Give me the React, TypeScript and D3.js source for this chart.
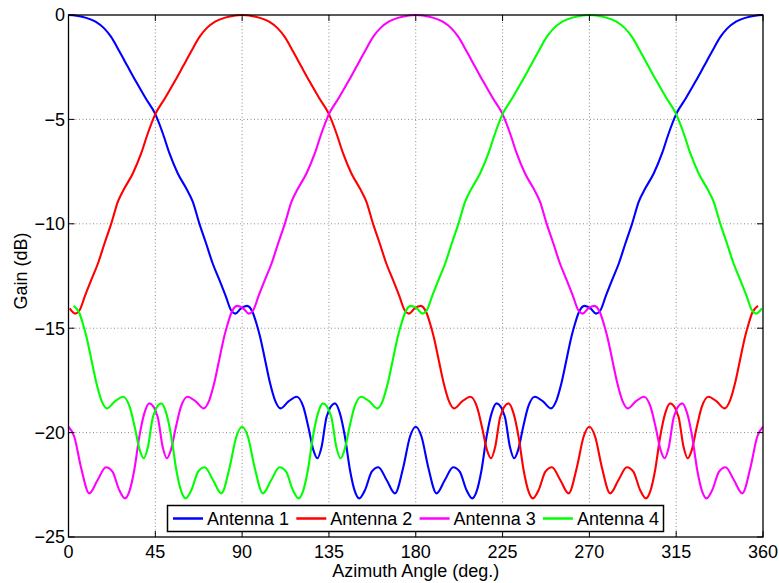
import React, { useEffect } from "react";
import * as d3 from "d3";

// Tick values
const angleTicks = [0, 45, 90, 135, 180, 225, 270, 315, 360];
const gainTicks = [-25, -20, -15, -10, -5, 0];

// Measured antenna pattern: angle from boresight (deg) -> gain (dB), 0..180 (pattern is symmetric)
const boresightOffsets = [
  0, 7, 14, 18.5, 22, 26.5, 30.7, 35, 40, 45, 49, 52.3, 56.6, 61, 64.4, 67.8, 71.3, 74.7, 78.2, 81.6,
  84.2, 86.5, 89.4, 92.6, 95.5, 97.5, 99.3, 101.9, 104.5, 107, 110, 113.9, 118.3, 121.7, 124.3, 126.9,
  129, 131.2, 133.8, 138.1, 140.7, 143.3, 145.9, 148.5, 150.7, 153.7, 157.2, 160.6, 164.9, 169.2,
  173.6, 177, 180,
];
const patternGain = [
  0, -0.08, -0.32, -0.64, -1.04, -1.76, -2.47, -3.19, -3.99, -4.75, -5.7, -6.62, -7.58, -8.3, -8.94,
  -9.98, -10.93, -11.89, -12.69, -13.49, -14.13, -14.3, -14.05, -13.93, -14.25, -14.8, -15.41, -16.52,
  -17.64, -18.44, -18.84, -18.52, -18.28, -18.76, -19.72, -20.83, -21.23, -20.68, -19.24, -18.6,
  -19.08, -20.2, -21.79, -22.83, -23.15, -22.75, -21.87, -21.66, -22.27, -22.91, -21.63, -20.2, -19.72,
];

// Antennas: boresight direction (deg)
const antennaNames = ["Antenna 1", "Antenna 2", "Antenna 3", "Antenna 4"];
const beamCenters = [0, 90, 180, 270];
const antennaColors = ["#0000ff", "#ff0000", "#ff00ff", "#00ff00"];

const W = 779;
const H = 583;
const M = { left: 68.5, right: 763, top: 15, bottom: 537 };

function buildSeries(center: number): [number, number][] {
  const offs: number[] = [];
  const gains: number[] = [];
  for (let i = boresightOffsets.length - 1; i > 0; i--) {
    offs.push(-boresightOffsets[i]);
    gains.push(patternGain[i]);
  }
  for (let i = 0; i < boresightOffsets.length; i++) {
    offs.push(boresightOffsets[i]);
    gains.push(patternGain[i]);
  }
  const map = new Map<number, number>();
  offs.forEach((o, i) => {
    const a = center + o;
    [a - 360, a, a + 360].forEach((v) => {
      if (v >= 0 && v <= 360) {
        const k = Math.round(v * 1000) / 1000;
        if (!map.has(k)) map.set(k, gains[i]);
      }
    });
  });
  return Array.from(map.entries()).sort((p, q) => p[0] - q[0]);
}

export default function App() {
  useEffect(() => {
    document.body.style.margin = "0";
  }, []);

  const x = d3.scaleLinear().domain([0, 360]).range([M.left, M.right]);
  const y = d3.scaleLinear().domain([-25, 0]).range([M.bottom, M.top]);
  const line = d3
    .line<[number, number]>()
    .x((d) => x(d[0]))
    .y((d) => y(d[1]))
    .curve(d3.curveMonotoneX);

  const font = "Liberation Sans, Arial, Helvetica, sans-serif";
  const tick = 6;
  const fmt = (v: number) => (v < 0 ? "\u2212" + Math.abs(v) : String(v));

  const legendX0 = 167.5;
  const legendY0 = 505.5;
  const legendW = 496;
  const legendH = 26;
  const entryStep = 123.3;

  return (
    <svg width={W} height={H} style={{ display: "block", background: "#fff" }} fontFamily={font}>
      <rect x={0} y={0} width={W} height={H} fill="#fff" />
      {/* grid */}
      <g stroke="#8c8c8c" strokeWidth={1} strokeDasharray="1,2.5">
        {angleTicks.slice(1, -1).map((t) => (
          <line key={"gx" + t} x1={x(t)} x2={x(t)} y1={M.top} y2={M.bottom} />
        ))}
        {gainTicks.slice(1, -1).map((t) => (
          <line key={"gy" + t} x1={M.left} x2={M.right} y1={y(t)} y2={y(t)} />
        ))}
      </g>
      {/* data */}
      <g fill="none" strokeWidth={2.1} strokeLinejoin="round">
        {beamCenters.map((c, i) => (
          <path key={antennaNames[i]} d={line(buildSeries(c)) || ""} stroke={antennaColors[i]} />
        ))}
      </g>
      {/* ticks */}
      <g stroke="#000" strokeWidth={1}>
        {angleTicks.map((t) => (
          <g key={"tx" + t}>
            <line x1={x(t)} x2={x(t)} y1={M.bottom} y2={M.bottom - tick} />
            <line x1={x(t)} x2={x(t)} y1={M.top} y2={M.top + tick} />
          </g>
        ))}
        {gainTicks.map((t) => (
          <g key={"ty" + t}>
            <line x1={M.left} x2={M.left + tick} y1={y(t)} y2={y(t)} />
            <line x1={M.right} x2={M.right - tick} y1={y(t)} y2={y(t)} />
          </g>
        ))}
      </g>
      <rect
        x={M.left}
        y={M.top}
        width={M.right - M.left}
        height={M.bottom - M.top}
        fill="none"
        stroke="#000"
        strokeWidth={1.3}
      />
      {/* tick labels */}
      <g fontSize={18} fill="#000">
        {angleTicks.map((t) => (
          <text key={"lx" + t} x={x(t)} y={557.5} textAnchor="middle">
            {t}
          </text>
        ))}
        {gainTicks.map((t) => (
          <text key={"ly" + t} x={65} y={y(t) + 6.3} textAnchor="end">
            {fmt(t)}
          </text>
        ))}
      </g>
      {/* axis titles */}
      <text x={(M.left + M.right) / 2} y={576.5} fontSize={18} textAnchor="middle" fill="#000">
        Azimuth Angle (deg.)
      </text>
      <text
        transform={`translate(26.5, ${(M.top + M.bottom) / 2 - 5}) rotate(-90)`}
        fontSize={18}
        textAnchor="middle"
        fill="#000"
      >
        Gain (dB)
      </text>
      {/* legend */}
      <rect
        x={legendX0}
        y={legendY0}
        width={legendW}
        height={legendH}
        fill="#fff"
        stroke="#000"
        strokeWidth={1.5}
      />
      {antennaNames.map((n, i) => {
        const lx = legendX0 + 5.5 + i * entryStep;
        const cy = legendY0 + legendH / 2;
        return (
          <g key={"lg" + n}>
            <line x1={lx} x2={lx + 30} y1={cy} y2={cy} stroke={antennaColors[i]} strokeWidth={2.5} />
            <text x={lx + 34} y={cy + 6.5} fontSize={18} fill="#000">
              {n}
            </text>
          </g>
        );
      })}
    </svg>
  );
}
